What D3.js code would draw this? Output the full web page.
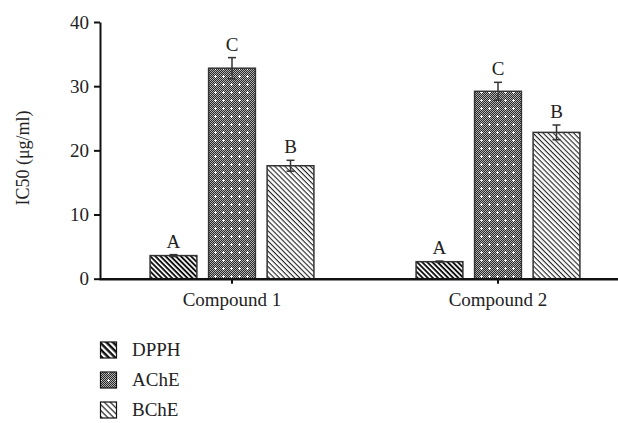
<!DOCTYPE html>
<html><head><meta charset="utf-8">
<script src="https://cdn.jsdelivr.net/npm/d3@7"></script>
<style>body{margin:0;background:#fff}svg{display:block}text{font-family:"Liberation Serif","Times New Roman",serif;fill:#222}</style>
</head><body><svg id="c" width="618" height="423"></svg>
<script>
const groups = ["Compound 1", "Compound 2"];
const series = ["DPPH", "AChE", "BChE"];
const values = { "Compound 1": [3.6, 32.8, 17.6], "Compound 2": [2.65, 29.2, 22.8] };
const errors = { "Compound 1": [0.15, 1.65, 0.85], "Compound 2": [0.1, 1.4, 1.15] };
const letters = { "Compound 1": ["A", "C", "B"], "Compound 2": ["A", "C", "B"] };
const yTicks = [0, 10, 20, 30, 40];

const svg = d3.select("#c");
const defs = svg.append("defs");

function stripes(id, period, w, color) {
  const p = defs.append("pattern").attr("id", id).attr("patternUnits", "userSpaceOnUse")
    .attr("width", period).attr("height", period).attr("patternTransform", "rotate(45)");
  p.append("rect").attr("width", period).attr("height", period).attr("fill", "#fff");
  p.append("rect").attr("x", 0).attr("y", 0).attr("width", period).attr("height", w).attr("fill", color);
}
stripes("pDPPH", 3.6, 1.9, "#111");
stripes("pBChE", 3.6, 1.1, "#222");
stripes("lDPPH", 4.6, 2.4, "#111");
stripes("lBChE", 4.2, 1.2, "#222");

function checker(id) {
  const n = 8;
  const p = defs.append("pattern").attr("id", id).attr("patternUnits", "userSpaceOnUse")
    .attr("width", n).attr("height", n);
  p.append("rect").attr("width", n).attr("height", n).attr("fill", "#b0b0b0");
  for (let i = 0; i < n; i++) for (let j = 0; j < n; j++) {
    if ((i + j) % 2 === 0) p.append("rect").attr("x", i).attr("y", j).attr("width", 1).attr("height", 1).attr("fill", "#2a2a2a");
  }
  p.append("rect").attr("x", 3).attr("y", 4).attr("width", 3).attr("height", 1).attr("fill", "#fff");
  p.append("rect").attr("x", 4).attr("y", 3).attr("width", 1).attr("height", 3).attr("fill", "#fff");
}
checker("pAChE");
const fills = { DPPH: "url(#pDPPH)", AChE: "url(#pAChE)", BChE: "url(#pBChE)" };
const lfills = { DPPH: "url(#lDPPH)", AChE: "url(#pAChE)", BChE: "url(#lBChE)" };

const y = d3.scaleLinear().domain([0, 40]).range([278.7, 22]);
const x0 = d3.scaleBand().domain(groups).range([99, 631]).padding(0);
const x1 = d3.scaleBand().domain(series).range([0, x0.bandwidth()]).paddingInner(0.2).paddingOuter(0.873);

// bars
groups.forEach(g => {
  const gg = svg.append("g").attr("transform", `translate(${x0(g)},0)`);
  series.forEach((s, i) => {
    const v = values[g][i], e = errors[g][i];
    const cx = x1(s) + x1.bandwidth() / 2;
    gg.append("rect").attr("x", x1(s)).attr("y", y(v)).attr("width", x1.bandwidth())
      .attr("height", y(0) - y(v)).attr("fill", fills[s]).attr("stroke", "#333").attr("stroke-width", 1.5);
    const eb = gg.append("g").attr("stroke", "#333").attr("stroke-width", 1.5);
    eb.append("line").attr("x1", cx).attr("x2", cx).attr("y1", y(v + e)).attr("y2", y(v - e));
    eb.append("line").attr("x1", cx - 4).attr("x2", cx + 4).attr("y1", y(v + e)).attr("y2", y(v + e));
    eb.append("line").attr("x1", cx - 4).attr("x2", cx + 4).attr("y1", y(v - e)).attr("y2", y(v - e));
    gg.append("text").attr("x", cx).attr("y", y(v + e) - 7).attr("text-anchor", "middle")
      .attr("font-size", 19).text(letters[g][i]);
  });
});

// y axis
const ya = svg.append("g").attr("transform", "translate(100,0)")
  .call(d3.axisLeft(y).tickValues(yTicks).tickSize(6).tickSizeOuter(0).tickPadding(5));
ya.select(".domain").attr("stroke", "#111").attr("stroke-width", 2);
ya.selectAll(".tick line").attr("stroke", "#111").attr("stroke-width", 2);
ya.selectAll(".tick text").attr("font-size", 19).attr("font-family", "Liberation Serif").attr("fill", "#222");

// x axis
const xa = svg.append("g").attr("transform", `translate(0,${y(0)})`)
  .call(d3.axisBottom(x0).tickSize(5).tickSizeOuter(0).tickPadding(9));
xa.select(".domain").attr("stroke", "#111").attr("stroke-width", 2.5);
xa.selectAll(".tick line").attr("stroke", "#111").attr("stroke-width", 2);
xa.selectAll(".tick text").attr("font-size", 19).attr("font-family", "Liberation Serif").attr("fill", "#222");

// y title
svg.append("text").attr("transform", "translate(29,158) rotate(-90)").attr("text-anchor", "middle")
  .attr("font-size", 18).text("IC50 (μg/ml)");

// legend
series.forEach((s, i) => {
  const ly = 342 + i * 30;
  svg.append("rect").attr("x", 100.5).attr("y", ly).attr("width", 16).attr("height", 16)
    .attr("fill", lfills[s]).attr("stroke", "#111").attr("stroke-width", 1.2);
  svg.append("text").attr("x", 132).attr("y", ly + 14).attr("font-size", 19).text(s);
});
</script></body></html>
